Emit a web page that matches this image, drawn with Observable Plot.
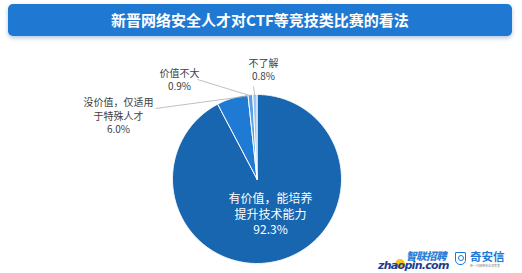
<!DOCTYPE html>
<html><head><meta charset="utf-8">
<script src="https://cdn.jsdelivr.net/npm/d3@7"></script>
<script src="https://cdn.jsdelivr.net/npm/@observablehq/plot@0.6"></script>
<style>
html,body{margin:0;padding:0;background:#fff;}
#wrap{position:relative;width:522px;height:273px;overflow:hidden;font-family:"Noto Sans CJK SC","Noto Sans",sans-serif;}
#title{position:absolute;left:8px;top:4px;width:504px;height:32px;background:#1f78d1;border-radius:5px;box-shadow:0 2px 4px rgba(40,90,160,0.35);color:#fff;font-weight:700;font-size:15px;line-height:32px;text-align:center;}
#chart{position:absolute;left:0;top:0;}
.logo{position:absolute;white-space:nowrap;}
</style></head>
<body><div id="wrap"><div id="chart"></div><div id="title"></div>
<div class="logo" style="left:406px;top:251px;height:9px;line-height:9px;font-size:10.5px;font-weight:900;font-style:italic;color:#2b7fd6;letter-spacing:-0.5px;">智联招聘</div>
<div class="logo" style="left:395px;top:259px;width:10px;height:10px;border-radius:50%;background:#f5c518;"></div>
<div class="logo" style="left:378px;top:261px;height:9px;line-height:9px;font-size:11px;font-weight:900;font-style:italic;color:#1d3b8f;font-family:'DejaVu Sans',sans-serif;letter-spacing:-0.7px;">zhaopin.com</div>
<div class="logo" style="left:455px;top:252px;width:9px;height:11px;border:1.5px solid #1e7ad8;border-radius:1px 1px 5px 5px;"></div>
<div class="logo" style="left:458px;top:255px;width:4px;height:4px;border:1.3px solid #1e7ad8;border-radius:50%;"></div>
<div class="logo" style="left:470px;top:251px;height:11px;line-height:11px;font-size:11.5px;font-weight:700;color:#1e7ad8;">奇安信</div>
<div class="logo" style="left:470px;top:264px;height:4px;line-height:4px;font-size:3px;color:#888;">新一代网络安全领军者</div>
</div>
<script>
// ---- data ----
const titleText = "新晋网络安全人才对CTF等竞技类比赛的看法";
const categories = ["有价值，能培养提升技术能力", "没价值，仅适用于特殊人才", "价值不大", "不了解"];
const values = [92.3, 6.0, 0.9, 0.8];
const labelLines = [["有价值，能培养", "提升技术能力"], ["没价值，仅适用", "于特殊人才"], ["价值不大"], ["不了解"]];

// ---- style / layout ----
const sliceColors = ["#1766af", "#1e7ad2", "#5aa0e2", "#9dc6ef"];
const cx = 256.5, cy = 178.5, R = 84.5;
// label layout: block center x/y, line height (em), font size, colour, leader start, leader anchor (fraction of slice)
const labelLayout = [
  {x: 270, y: 213.5, lh: 1.29, size: 12, color: "#ffffff", lead: null},
  {x: 118, y: 114.8, lh: 1.32, size: 10, color: "#404040", lead: [155, 108], at: 1.0},
  {x: 179, y: 78.5, lh: 1.3, size: 10, color: "#404040", lead: [197, 79], at: 0.5},
  {x: 263, y: 68.8, lh: 1.35, size: 10, color: "#404040", lead: [253, 86], at: 0.5}
];

document.getElementById("title").textContent = titleText;

const arcs = d3.pie().sort(null).value(d => d)(values);
const pt = (a, r) => [cx + r * Math.sin(a), cy - r * Math.cos(a)];

const polys = [];
arcs.forEach((a, i) => {
  const n = Math.max(2, Math.ceil((a.endAngle - a.startAngle) / 0.01));
  polys.push({k: i, x: cx, y: cy, c: sliceColors[i]});
  for (let j = 0; j <= n; j++) {
    const t = a.startAngle + (a.endAngle - a.startAngle) * j / n;
    const [x, y] = pt(t, R);
    polys.push({k: i, x, y, c: sliceColors[i]});
  }
  polys.push({k: i, x: cx, y: cy, c: sliceColors[i]});
});

const labels = [];
const links = [];
arcs.forEach((a, i) => {
  const L = labelLayout[i];
  labels.push({x: L.x, y: L.y, t: [...labelLines[i], values[i].toFixed(1) + "%"].join("\n"), L});
  if (L.lead) {
    const ang = a.startAngle + (a.endAngle - a.startAngle) * L.at;
    const [x2, y2] = pt(ang, R - 1);
    links.push({x1: L.lead[0], y1: L.lead[1], x2, y2});
  }
});

const plot = Plot.plot({
  width: 522, height: 273, margin: 0,
  x: {domain: [0, 522], range: [0, 522], axis: null},
  y: {domain: [0, 273], range: [0, 273], axis: null},
  color: {type: "identity"},
  style: {fontFamily: "'Noto Sans CJK SC','Noto Sans',sans-serif", background: "transparent"},
  marks: [
    Plot.line(polys, {x: "x", y: "y", z: "k", fill: "c", stroke: "#ffffff", strokeWidth: 1, strokeLinejoin: "round", curve: "linear"}),
    Plot.link(links, {x1: "x1", y1: "y1", x2: "x2", y2: "y2", stroke: "#b0b0b0", strokeWidth: 0.8}),
    ...labels.map(d => Plot.text([d], {x: "x", y: "y", text: "t", fill: d.L.color, fontSize: d.L.size, lineHeight: d.L.lh, textAnchor: "middle"}))
  ]
});
document.getElementById("chart").appendChild(plot);
</script>
</body></html>
